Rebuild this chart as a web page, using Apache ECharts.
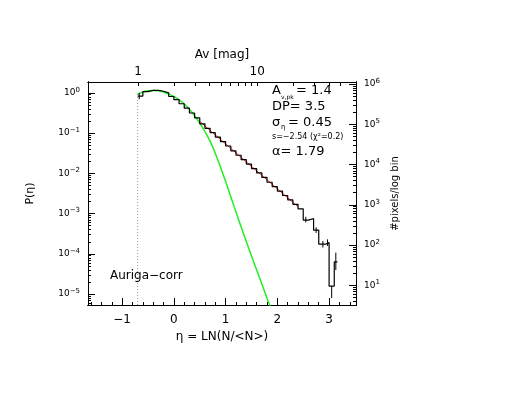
<!DOCTYPE html>
<html>
<head>
<meta charset="utf-8">
<script src="https://cdn.jsdelivr.net/npm/echarts@6/dist/echarts.min.js"></script>
<style>html,body{margin:0;padding:0;background:#fff}#c{width:529px;height:409px}</style>
</head>
<body>
<div id="c"></div>
<script>
// histogram: left bin edges (eta) and log10 P(eta)
var histEta = [-0.70,-0.60,-0.50,-0.40,-0.30,-0.20,-0.10,0.00,0.10,0.20,0.30,0.40,0.50,0.60,0.70,0.80,0.90,1.00,1.10,1.20,1.30,1.40,1.50,1.60,1.70,1.80,1.90,2.00,2.10,2.20,2.30,2.40,2.50,2.60,2.70,2.80,2.93,3.00,3.10,3.16]
var histLogP = [-0.08,0.03,0.06,0.06,0.04,0.00,-0.09,-0.17,-0.27,-0.38,-0.50,-0.62,-0.77,-0.88,-0.99,-1.10,-1.21,-1.32,-1.44,-1.55,-1.66,-1.77,-1.88,-1.99,-2.10,-2.22,-2.33,-2.44,-2.55,-2.66,-2.77,-2.88,-3.16,-3.12,-3.41,-3.76,-3.72,-4.80,-4.20,-4.20]
// lognormal fit (green)
var fitEta = [-0.7,-0.6,-0.5,-0.4,-0.3,-0.2,-0.1,0,0.1,0.2,0.3,0.4,0.5,0.6,0.7,0.8,0.9,1.0,1.1,1.2,1.3,1.4,1.5,1.6,1.7,1.8,1.86]
var fitLogP = [-0.04,0.02,0.05,0.06,0.05,0.02,-0.03,-0.09,-0.17,-0.28,-0.41,-0.57,-0.75,-0.96,-1.20,-1.50,-1.84,-2.20,-2.58,-2.96,-3.33,-3.69,-4.05,-4.40,-4.75,-5.10,-5.30]
// power-law fit (red)
var plEta = [0.5, 2.4]
var plLogP = [-0.71, -2.83]
// error bars [eta, low, high]
var errBars = [[-0.67,-0.16,0.00],[2.55,-3.22,-3.08],[2.75,-3.48,-3.34],[2.88,-3.84,-3.68],[2.97,-3.80,-3.64],[3.05,-5.10,-4.80],[3.13,-4.40,-3.97]]
var avTicks = [1,2,3,4,5,6,7,8,9,10,20,30,40,50,60]
var avLabels = [1, 10]
var etaTicks = [-1,0,1,2,3]
var etaMinor = [-1.6,-1.4,-1.2,-0.8,-0.6,-0.4,-0.2,0.2,0.4,0.6,0.8,1.2,1.4,1.6,1.8,2.2,2.4,2.6,2.8,3.2,3.4]
var leftTicks = [0,-1,-2,-3,-4,-5]
var rightTicks = [1,2,3,4,5,6]
var meanAv = 2.0
var rightOffset = 5.78

var xMin = -1.66, xMax = 3.52, yMin = -5.27, yMax = 0.27
var font = 'DejaVu Sans'
var sup = {sup:{fontSize:7,verticalAlign:'top',padding:[0,0,6,0],fontFamily:font,color:'#000'}}
function pow10(v){ return '10{sup|' + v + '}' }

var minorLeft = []
for (var d = -6; d <= 0; d++) for (var k = 2; k <= 9; k++) {
  var v = d + Math.log10(k); if (v > yMin && v < yMax) minorLeft.push(v)
}
var rMinor = []
for (var d2 = 0; d2 <= 6; d2++) for (var k2 = 2; k2 <= 9; k2++) {
  var w = d2 + Math.log10(k2); if (w > yMin + rightOffset && w < yMax + rightOffset) rMinor.push(w)
}
var avPos = avTicks.map(function(a){ return Math.log(a/meanAv) })

var histData = histEta.map(function(e, i){ return [e, histLogP[i]] })
var errData = []
errBars.forEach(function(b){ errData.push([b[0], b[1]], [b[0], b[2]], [null, null]) })

var blackLine = {show:true, onZero:false, lineStyle:{color:'#000'}}
// tick-only overlay axis (labels kept but transparent so the ticks are laid out)
function tickAxis(pos, min, max, len, vals){
  return {type:'value', min:min, max:max, position:pos, axisLine:blackLine, splitLine:{show:false},
    axisLabel:{show:true, customValues:vals, color:'rgba(0,0,0,0)', fontSize:1},
    axisTick:{show:true, inside:true, length:len, customValues:vals, lineStyle:{color:'#000', width:1}}}
}
var txt = function(x, y, s, size){ return {type:'text', left:x, top:y, style:{text:s, font:size + 'px ' + font, fill:'#000'}} }
var chart = echarts.init(document.getElementById('c'))
chart.setOption({
  animation:false,
  grid:{left:88, right:173, top:82, bottom:104},
  xAxis:[
    {type:'value', min:xMin, max:xMax, position:'bottom',
     name:'η = LN(N/<N>)', nameLocation:'middle', nameGap:22,
     nameTextStyle:{fontFamily:font, fontSize:12, color:'#000'},
     axisLine:blackLine, splitLine:{show:false},
     axisTick:{show:false},
     axisLabel:{fontFamily:font, fontSize:12, color:'#000', margin:9, customValues:etaTicks,
       formatter:function(v){ return v < 0 ? '−' + (-v) : String(v) }}},
    {type:'value', min:xMin, max:xMax, position:'top',
     name:'Av [mag]', nameLocation:'middle', nameGap:20,
     nameTextStyle:{fontFamily:font, fontSize:12, color:'#000'},
     axisLine:blackLine, splitLine:{show:false},
     axisTick:{show:false},
     axisLabel:{fontFamily:font, fontSize:12, color:'#000', margin:4,
       customValues:avLabels.map(function(a){ return Math.log(a/meanAv) }),
       formatter:function(v){ return String(Math.round(meanAv*Math.exp(v))) }}},
    tickAxis('bottom', xMin, xMax, 7, etaTicks),
    tickAxis('bottom', xMin, xMax, 3, etaMinor),
    tickAxis('top', xMin, xMax, 4, avPos)
  ],
  yAxis:[
    {type:'value', min:yMin, max:yMax, position:'left',
     name:'P(η)', nameLocation:'middle', nameGap:52, nameRotate:90,
     nameTextStyle:{fontFamily:font, fontSize:11, color:'#000'},
     axisLine:blackLine, splitLine:{show:false},
     axisTick:{show:false},
     axisLabel:{fontFamily:font, fontSize:9, color:'#000', customValues:leftTicks,
       formatter:function(v){ return pow10(Math.round(v) < 0 ? '−' + (-Math.round(v)) : Math.round(v)) }, rich:sup}},
    {type:'value', min:yMin + rightOffset, max:yMax + rightOffset, position:'right',
     name:'#pixels/log bin', nameLocation:'middle', nameGap:30, nameRotate:90,
     nameTextStyle:{fontFamily:font, fontSize:10, color:'#000'},
     axisLine:blackLine, splitLine:{show:false},
     axisTick:{show:false},
     axisLabel:{fontFamily:font, fontSize:9, color:'#000', customValues:rightTicks,
       formatter:function(v){ return pow10(Math.round(v)) }, rich:sup}},
    tickAxis('left', yMin, yMax, 7, leftTicks),
    tickAxis('left', yMin, yMax, 3, minorLeft),
    tickAxis('right', yMin + rightOffset, yMax + rightOffset, 7, rightTicks),
    tickAxis('right', yMin + rightOffset, yMax + rightOffset, 3, rMinor)
  ],
  series:[
    {type:'line', data:[[-0.7, yMin],[-0.7, 0]], symbol:'none', silent:true,
     lineStyle:{color:'#999', width:1, type:[1,2]}},
    {type:'line', data:fitEta.map(function(e,i){ return [e, fitLogP[i]] }), symbol:'none', smooth:0.3,
     lineStyle:{color:'#22ee22', width:1.5}},
    {type:'line', data:plEta.map(function(e,i){ return [e, plLogP[i]] }), symbol:'none',
     lineStyle:{color:'#ee2222', width:1}},
    {type:'line', data:histData, step:'end', symbol:'none', lineStyle:{color:'#000', width:1.2}},
    {type:'line', data:errData, symbol:'none', connectNulls:false, lineStyle:{color:'#000', width:1}}
  ],
  graphic:[
    txt(272, 84, 'A', 13), txt(281, 94, 'v,pk', 6), txt(296, 84, '= 1.4', 13),
    txt(272, 100, 'DP= 3.5', 13),
    txt(272, 116, 'σ', 13), txt(281, 124, 'η', 7), txt(288, 116, '= 0.45', 13),
    txt(272, 133, 's=−2.54 (χ²=0.2)', 8),
    txt(272, 145, 'α= 1.79', 13),
    txt(110, 270, 'Auriga−corr', 12)
  ]
})
</script>
</body>
</html>
